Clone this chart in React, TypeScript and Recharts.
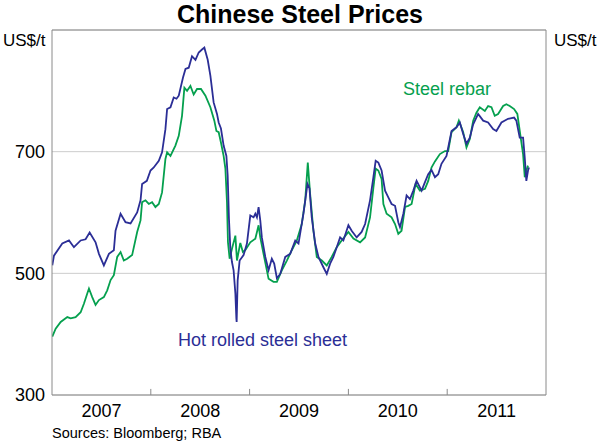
import React from "react";
import { LineChart, Line, XAxis, YAxis, CartesianGrid, ReferenceLine } from "recharts";

const hotDates = [
  2007.003, 2007.02, 2007.104, 2007.172, 2007.222, 2007.29, 2007.34, 2007.381, 2007.441, 2007.475,
  2007.525, 2007.576, 2007.626, 2007.643, 2007.694, 2007.744, 2007.795, 2007.862, 2007.896, 2007.912,
  2007.96, 2007.997, 2008.03, 2008.081, 2008.114, 2008.148, 2008.165, 2008.199, 2008.232, 2008.26,
  2008.283, 2008.326, 2008.351, 2008.384, 2008.417, 2008.452, 2008.485, 2008.518, 2008.542, 2008.576,
  2008.603, 2008.636, 2008.67, 2008.687, 2008.71, 2008.737, 2008.765, 2008.778, 2008.791, 2008.805,
  2008.821, 2008.838, 2008.856, 2008.866, 2008.869, 2008.879, 2008.899, 2008.939, 2008.973, 2009.007,
  2009.04, 2009.058, 2009.074, 2009.091, 2009.108, 2009.124, 2009.159, 2009.192, 2009.225, 2009.249,
  2009.276, 2009.31, 2009.361, 2009.411, 2009.462, 2009.495, 2009.545, 2009.586, 2009.606, 2009.629,
  2009.664, 2009.697, 2009.747, 2009.781, 2009.815, 2009.848, 2009.882, 2009.916, 2009.949, 2010.0,
  2010.033, 2010.084, 2010.134, 2010.169, 2010.219, 2010.253, 2010.276, 2010.303, 2010.336, 2010.371,
  2010.404, 2010.437, 2010.472, 2010.505, 2010.522, 2010.556, 2010.589, 2010.623, 2010.657, 2010.69,
  2010.741, 2010.775, 2010.808, 2010.841, 2010.876, 2010.909, 2010.942, 2010.993, 2011.044, 2011.094,
  2011.128, 2011.162, 2011.195, 2011.229, 2011.263, 2011.313, 2011.364, 2011.414, 2011.465, 2011.498,
  2011.549, 2011.616, 2011.677, 2011.7, 2011.734, 2011.768, 2011.785, 2011.801, 2011.818, 2011.828,
];
const hotValues = [
  513, 529, 549, 554, 543, 554, 556, 567, 551, 532,
  513, 532, 538, 570, 598, 584, 582, 600, 620, 647,
  652, 669, 674, 685, 699, 737, 770, 773, 789, 787,
  792, 822, 836, 838, 857, 851, 863, 868, 871, 851,
  825, 781, 762, 748, 738, 710, 693, 661, 590, 541,
  519, 505, 467, 426, 420, 488, 521, 530, 549, 595,
  592, 598, 592, 609, 587, 559, 527, 505, 524, 516,
  492, 499, 527, 532, 554, 549, 598, 647, 640, 592,
  549, 527, 510, 499, 516, 527, 543, 559, 554, 579,
  570, 559, 568, 581, 620, 658, 685, 682, 669, 636,
  625, 614, 611, 584, 576, 598, 628, 622, 636, 652,
  636, 650, 663, 670, 658, 663, 680, 693, 734, 740,
  748, 729, 713, 723, 745, 762, 751, 748, 737, 734,
  748, 754, 756, 751, 723, 723, 690, 652, 669, 674,
];

const rebarDates = [
  2007.003, 2007.037, 2007.088, 2007.155, 2007.189, 2007.239, 2007.29, 2007.323, 2007.357, 2007.374,
  2007.407, 2007.441, 2007.475, 2007.525, 2007.559, 2007.593, 2007.626, 2007.66, 2007.694, 2007.727,
  2007.761, 2007.811, 2007.862, 2007.896, 2007.912, 2007.946, 2007.98, 2008.013, 2008.047, 2008.081,
  2008.114, 2008.148, 2008.165, 2008.199, 2008.249, 2008.283, 2008.316, 2008.34, 2008.367, 2008.401,
  2008.434, 2008.468, 2008.508, 2008.553, 2008.603, 2008.643, 2008.664, 2008.687, 2008.71, 2008.737,
  2008.755, 2008.771, 2008.781, 2008.798, 2008.821, 2008.856, 2008.872, 2008.906, 2008.932, 2008.956,
  2009.007, 2009.058, 2009.091, 2009.108, 2009.141, 2009.192, 2009.242, 2009.276, 2009.326, 2009.377,
  2009.427, 2009.478, 2009.528, 2009.563, 2009.589, 2009.613, 2009.646, 2009.68, 2009.731, 2009.781,
  2009.831, 2009.882, 2009.932, 2010.0, 2010.051, 2010.118, 2010.169, 2010.219, 2010.253, 2010.276,
  2010.303, 2010.336, 2010.354, 2010.387, 2010.437, 2010.472, 2010.505, 2010.538, 2010.573, 2010.606,
  2010.64, 2010.68, 2010.724, 2010.775, 2010.808, 2010.841, 2010.876, 2010.926, 2010.977, 2011.01,
  2011.044, 2011.094, 2011.118, 2011.162, 2011.195, 2011.229, 2011.263, 2011.296, 2011.33, 2011.381,
  2011.414, 2011.448, 2011.481, 2011.515, 2011.566, 2011.599, 2011.633, 2011.677, 2011.71, 2011.744,
  2011.768, 2011.785, 2011.801, 2011.818,
];
const rebarValues = [
  396, 409, 420, 428, 426, 428, 436, 450, 467, 475,
  461, 448, 456, 461, 472, 489, 497, 527, 535, 521,
  524, 530, 568, 587, 617, 620, 614, 617, 609, 614,
  633, 688, 699, 693, 710, 726, 759, 805, 800, 808,
  794, 803, 803, 792, 773, 751, 734, 732, 715, 693,
  672, 617, 551, 524, 540, 562, 521, 550, 535, 538,
  551, 557, 579, 559, 532, 491, 486, 486, 505, 521,
  538, 554, 581, 620, 682, 630, 570, 527, 521, 513,
  527, 543, 554, 568, 557, 551, 559, 592, 641, 672,
  669, 655, 614, 598, 592, 581, 565, 570, 609, 611,
  614, 647, 636, 639, 652, 674, 684, 696, 701, 701,
  732, 740, 751, 732, 707, 721, 751, 764, 773, 767,
  775, 773, 759, 762, 775, 778, 775, 770, 762, 723,
  696, 658, 669, 677,
];

const yearTicks = [2007.5, 2008.5, 2009.5, 2010.5, 2011.5];
const yearLabels = ["2007", "2008", "2009", "2010", "2011"];
const yearBoundaries = [2008, 2009, 2010, 2011];
const yTicks = [300, 500, 700];

const hotData = hotDates.map((t, i) => ({ t, v: hotValues[i] }));
const rebarData = rebarDates.map((t, i) => ({ t, v: rebarValues[i] }));

const FONT = "'Liberation Sans', Arial, sans-serif";
const BLUE = "#2B2E96";
const GREEN = "#05A04E";
const FRAME = "#8a8a8a";
const GRID = "#cccccc";

export default function App() {
  return (
    <div style={{ position: "relative", width: 600, height: 443, fontFamily: FONT, background: "#fff" }}>
      <style>{`body{margin:0;}`}</style>
      <LineChart width={600} height={443} margin={{ top: 30, right: 0, bottom: 0, left: 0 }}>
        <CartesianGrid vertical={false} stroke={GRID} strokeWidth={1} yAxisId="left" />
        <XAxis
          type="number"
          dataKey="t"
          domain={[2007, 2012]}
          ticks={yearTicks}
          tickFormatter={(v: number) => yearLabels[yearTicks.indexOf(v)] ?? ""}
          tickLine={false}
          tickSize={0}
          tickMargin={9}
          height={48}
          allowDataOverflow
          axisLine={{ stroke: FRAME, strokeWidth: 1 }}
          tick={{ fill: "#000", fontSize: 18, fontFamily: FONT }}
        />
        <YAxis
          yAxisId="left"
          domain={[300, 900]}
          ticks={yTicks}
          width={52}
          tickLine={false}
          tickSize={0}
          tickMargin={7}
          axisLine={{ stroke: FRAME, strokeWidth: 1 }}
          tick={{ fill: "#000", fontSize: 18, fontFamily: FONT }}
        />
        <YAxis
          yAxisId="right"
          orientation="right"
          domain={[300, 900]}
          ticks={yTicks}
          width={54}
          tickLine={false}
          tickSize={0}
          tickMargin={8}
          axisLine={{ stroke: FRAME, strokeWidth: 1 }}
          tick={{ fill: "#000", fontSize: 18, fontFamily: FONT, textAnchor: "start" }}
        />
        <ReferenceLine yAxisId="left" y={900} stroke={FRAME} strokeWidth={1} />
        {yearBoundaries.map((b) => (
          <ReferenceLine
            key={b}
            yAxisId="left"
            segment={[{ x: b, y: 300 }, { x: b, y: 310 }]}
            stroke={FRAME}
            strokeWidth={1}
          />
        ))}
        <Line
          yAxisId="left"
          data={rebarData}
          dataKey="v"
          stroke={GREEN}
          strokeWidth={1.8}
          dot={false}
          isAnimationActive={false}
        />
        <Line
          yAxisId="left"
          data={hotData}
          dataKey="v"
          stroke={BLUE}
          strokeWidth={1.8}
          dot={false}
          isAnimationActive={false}
        />
      </LineChart>
      <svg
        width={600}
        height={443}
        style={{ position: "absolute", left: 0, top: 0, pointerEvents: "none" }}
        fontFamily={FONT}
      >
        <text x={300} y={23} textAnchor="middle" fontSize={25} fontWeight="bold" fill="#000">
          Chinese Steel Prices
        </text>
        <text x={3} y={46} fontSize={17} fill="#000">US$/t</text>
        <text x={554} y={46} fontSize={17} fill="#000">US$/t</text>
        <text x={403} y={95} fontSize={18} fill={GREEN}>Steel rebar</text>
        <text x={178} y={346} fontSize={18} fill={BLUE}>Hot rolled steel sheet</text>
        <text x={52} y={438} fontSize={14.5} fill="#000">Sources: Bloomberg; RBA</text>
      </svg>
    </div>
  );
}
